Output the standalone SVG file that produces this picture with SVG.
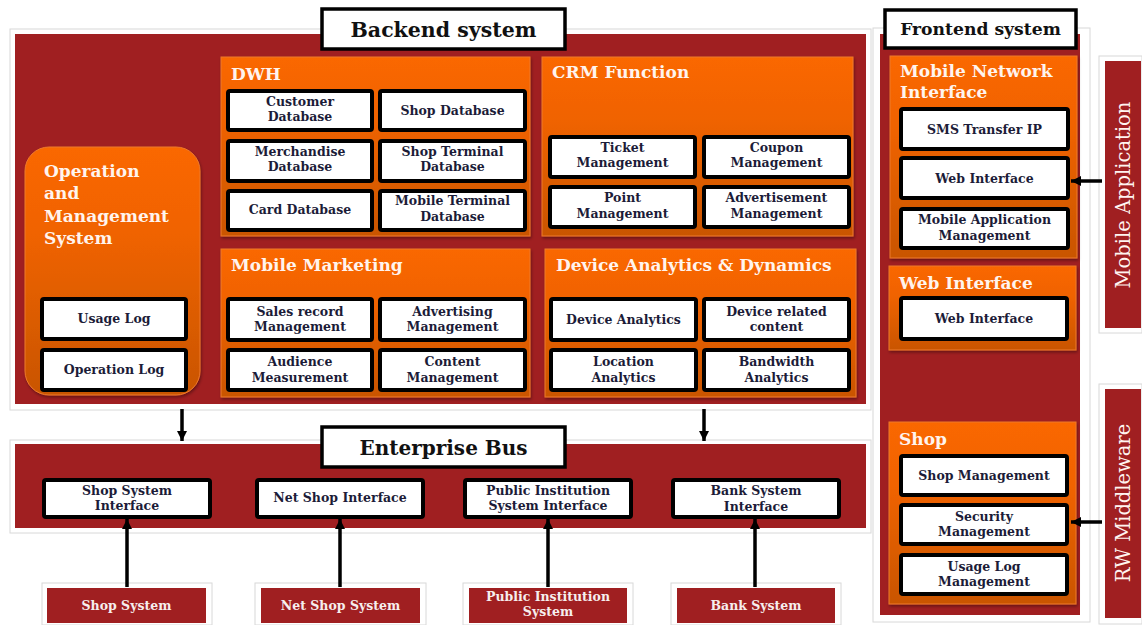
<svg xmlns="http://www.w3.org/2000/svg" width="1142" height="625" viewBox="0 0 1142 625">
<style>
.bg{fill:#fff}
.frame{fill:#fff;stroke:#d8d8d8;stroke-width:1}
.red{fill:#A01F21}
.org{fill:url(#og);stroke:#EE7A2A;stroke-width:1}
.box{fill:#fff;stroke:#000;stroke-width:4}
.tbox{fill:#fff;stroke:#000;stroke-width:3.5}
.bt{font-family:"DejaVu Serif",serif;font-weight:bold;font-size:12.5px;fill:#1c1c38;text-anchor:middle}
.ot{font-family:"DejaVu Serif",serif;font-weight:bold;font-size:17px;fill:#fff4ee}
.tt{font-family:"DejaVu Serif",serif;font-weight:bold;fill:#111;text-anchor:middle}
.rt{font-family:"DejaVu Serif",serif;font-weight:bold;font-size:12.5px;fill:#f6eeee;text-anchor:middle}
.vt{font-family:"DejaVu Serif",serif;font-size:19.5px;fill:#fff4f0;text-anchor:middle}
.con line{stroke:#000;stroke-width:3.5}
</style>
<defs>
<linearGradient id="og" x1="0" y1="0" x2="0" y2="1">
<stop offset="0" stop-color="#FA6700"/>
<stop offset="0.35" stop-color="#F06300"/>
<stop offset="1" stop-color="#C95500"/>
</linearGradient>
<filter id="sh" x="-5%" y="-5%" width="110%" height="110%">
<feDropShadow dx="1" dy="2" stdDeviation="1.5" flood-color="#000" flood-opacity="0.35"/>
</filter>
<marker id="ah" viewBox="0 0 10 10" refX="10" refY="5" markerWidth="10" markerHeight="10" markerUnits="userSpaceOnUse" orient="auto">
<path d="M0,0 L10,5 L0,10 z" fill="#000"/>
</marker>
</defs>
<rect class="bg" x="0" y="0" width="1142" height="625"/>

<g id="backend">
<rect class="frame" x="10" y="29" width="861" height="381"/>
<rect class="red" x="15" y="34" width="851" height="370"/>
<rect class="tbox" x="322" y="9" width="243" height="40"/>
<text class="tt" x="443.5" y="37" font-size="20.5">Backend system</text>
</g>

<g id="operation">
<rect class="org" x="25" y="147" width="175" height="248" rx="24" filter="url(#sh)"/>
<text class="ot" x="44" y="177" font-size="17.6">Operation</text>
<text class="ot" x="44" y="199" font-size="17.6">and</text>
<text class="ot" x="44" y="222" font-size="17.6">Management</text>
<text class="ot" x="44" y="244" font-size="17.6">System</text>
<g id="usage-log"><rect class="box" x="42" y="299" width="144" height="40" rx="2"/><text class="bt" x="114" y="323">Usage Log</text></g>
<g id="operation-log"><rect class="box" x="42" y="350" width="144" height="40" rx="2"/><text class="bt" x="114" y="374">Operation Log</text></g>
</g>

<g id="dwh">
<rect class="org" x="221" y="57" width="309" height="179" filter="url(#sh)"/>
<text class="ot" x="231" y="80">DWH</text>
<g id="customer-db"><rect class="box" x="228" y="91" width="144" height="39" rx="2"/><text class="bt" x="300" y="106">Customer</text><text class="bt" x="300" y="121">Database</text></g>
<g id="shop-db"><rect class="box" x="380" y="91" width="145" height="39" rx="2"/><text class="bt" x="452.5" y="115">Shop Database</text></g>
<g id="merch-db"><rect class="box" x="228" y="141" width="144" height="40" rx="2"/><text class="bt" x="300" y="156">Merchandise</text><text class="bt" x="300" y="171">Database</text></g>
<g id="shopterm-db"><rect class="box" x="380" y="141" width="145" height="40" rx="2"/><text class="bt" x="452.5" y="156">Shop Terminal</text><text class="bt" x="452.5" y="171">Database</text></g>
<g id="card-db"><rect class="box" x="228" y="191" width="144" height="39" rx="2"/><text class="bt" x="300" y="214">Card Database</text></g>
<g id="mobterm-db"><rect class="box" x="380" y="191" width="145" height="39" rx="2"/><text class="bt" x="452.5" y="205">Mobile Terminal</text><text class="bt" x="452.5" y="221">Database</text></g>
</g>

<g id="crm">
<rect class="org" x="542" y="57" width="311" height="179" filter="url(#sh)"/>
<text class="ot" x="552" y="78">CRM Function</text>
<g id="ticket"><rect class="box" x="550" y="137" width="145" height="40" rx="2"/><text class="bt" x="622.5" y="152">Ticket</text><text class="bt" x="622.5" y="167">Management</text></g>
<g id="coupon"><rect class="box" x="704" y="137" width="145" height="40" rx="2"/><text class="bt" x="776.5" y="152">Coupon</text><text class="bt" x="776.5" y="167">Management</text></g>
<g id="point"><rect class="box" x="550" y="187" width="145" height="40" rx="2"/><text class="bt" x="622.5" y="202">Point</text><text class="bt" x="622.5" y="218">Management</text></g>
<g id="advert"><rect class="box" x="704" y="187" width="145" height="40" rx="2"/><text class="bt" x="776.5" y="202">Advertisement</text><text class="bt" x="776.5" y="218">Management</text></g>
</g>

<g id="mobile-marketing">
<rect class="org" x="221" y="249" width="309" height="148" filter="url(#sh)"/>
<text class="ot" x="231" y="271">Mobile Marketing</text>
<g id="sales"><rect class="box" x="228" y="299" width="144" height="41" rx="2"/><text class="bt" x="300" y="316">Sales record</text><text class="bt" x="300" y="331">Management</text></g>
<g id="advertising"><rect class="box" x="380" y="299" width="145" height="41" rx="2"/><text class="bt" x="452.5" y="316">Advertising</text><text class="bt" x="452.5" y="331">Management</text></g>
<g id="audience"><rect class="box" x="228" y="350" width="144" height="40" rx="2"/><text class="bt" x="300" y="366">Audience</text><text class="bt" x="300" y="382">Measurement</text></g>
<g id="content"><rect class="box" x="380" y="350" width="145" height="40" rx="2"/><text class="bt" x="452.5" y="366">Content</text><text class="bt" x="452.5" y="382">Management</text></g>
</g>

<g id="device">
<rect class="org" x="545" y="249" width="311" height="148" filter="url(#sh)"/>
<text class="ot" x="556" y="271">Device Analytics &amp; Dynamics</text>
<g id="dev-analytics"><rect class="box" x="551" y="299" width="145" height="41" rx="2"/><text class="bt" x="623.5" y="324">Device Analytics</text></g>
<g id="dev-content"><rect class="box" x="704" y="299" width="145" height="41" rx="2"/><text class="bt" x="776.5" y="316">Device related</text><text class="bt" x="776.5" y="331">content</text></g>
<g id="location"><rect class="box" x="551" y="350" width="145" height="40" rx="2"/><text class="bt" x="623.5" y="366">Location</text><text class="bt" x="623.5" y="382">Analytics</text></g>
<g id="bandwidth"><rect class="box" x="704" y="350" width="145" height="40" rx="2"/><text class="bt" x="776.5" y="366">Bandwidth</text><text class="bt" x="776.5" y="382">Analytics</text></g>
</g>

<g id="enterprise-bus">
<rect class="frame" x="10" y="440" width="861" height="93"/>
<rect class="red" x="15" y="444" width="851" height="84"/>
<rect class="tbox" x="322" y="427" width="243" height="40"/>
<text class="tt" x="443.5" y="455" font-size="20">Enterprise Bus</text>
<g id="shop-if"><rect class="box" x="44" y="480" width="166" height="37" rx="2"/><text class="bt" x="127" y="495">Shop System</text><text class="bt" x="127" y="510">Interface</text></g>
<g id="netshop-if"><rect class="box" x="257" y="480" width="166" height="37" rx="2"/><text class="bt" x="340" y="502">Net Shop Interface</text></g>
<g id="public-if"><rect class="box" x="465" y="480" width="166" height="37" rx="2"/><text class="bt" x="548" y="495">Public Institution</text><text class="bt" x="548" y="510">System Interface</text></g>
<g id="bank-if"><rect class="box" x="673" y="480" width="166" height="37" rx="2"/><text class="bt" x="756" y="495">Bank System</text><text class="bt" x="756" y="511">Interface</text></g>
</g>

<g id="shop-system"><rect class="frame" x="42" y="583" width="170" height="42"/><rect class="red" x="47" y="588" width="159" height="35"/><text class="rt" x="126.5" y="610">Shop System</text></g>
<g id="netshop-system"><rect class="frame" x="255" y="583" width="171" height="42"/><rect class="red" x="261" y="588" width="159" height="35"/><text class="rt" x="340.5" y="610">Net Shop System</text></g>
<g id="public-system"><rect class="frame" x="463" y="583" width="170" height="42"/><rect class="red" x="469" y="588" width="158" height="35"/><text class="rt" x="548" y="601">Public Institution</text><text class="rt" x="548" y="616">System</text></g>
<g id="bank-system"><rect class="frame" x="671" y="583" width="170" height="42"/><rect class="red" x="677" y="588" width="158" height="35"/><text class="rt" x="756" y="610">Bank System</text></g>

<g id="frontend">
<rect class="frame" x="873" y="28" width="217" height="594"/>
<rect class="red" x="880" y="34" width="200" height="581"/>
<rect class="tbox" x="885" y="10" width="191" height="38"/>
<text class="tt" x="980.5" y="35" font-size="17.2">Frontend system</text>
</g>

<g id="mobile-network">
<rect class="org" x="890" y="56" width="187" height="202" filter="url(#sh)"/>
<text class="ot" x="900" y="77" font-size="14.8">Mobile Network</text>
<text class="ot" x="900" y="98" font-size="14.8">Interface</text>
<g id="sms"><rect class="box" x="901" y="109" width="167" height="40" rx="2"/><text class="bt" x="984.5" y="134">SMS Transfer IP</text></g>
<g id="web-if-1"><rect class="box" x="901" y="158" width="167" height="40" rx="2"/><text class="bt" x="984.5" y="183">Web Interface</text></g>
<g id="mob-app-mgmt"><rect class="box" x="901" y="209" width="167" height="39" rx="2"/><text class="bt" x="984.5" y="224">Mobile Application</text><text class="bt" x="984.5" y="240">Management</text></g>
</g>

<g id="web-interface">
<rect class="org" x="889" y="266" width="187" height="84" filter="url(#sh)"/>
<text class="ot" x="899" y="289">Web Interface</text>
<g id="web-if-2"><rect class="box" x="901" y="298" width="166" height="41" rx="2"/><text class="bt" x="984" y="323">Web Interface</text></g>
</g>

<g id="shop">
<rect class="org" x="889" y="422" width="187" height="182" filter="url(#sh)"/>
<text class="ot" x="899" y="445">Shop</text>
<g id="shop-mgmt"><rect class="box" x="901" y="456" width="166" height="39" rx="2"/><text class="bt" x="984" y="480">Shop Management</text></g>
<g id="security"><rect class="box" x="901" y="505" width="166" height="39" rx="2"/><text class="bt" x="984" y="521">Security</text><text class="bt" x="984" y="536">Management</text></g>
<g id="usage-log-mgmt"><rect class="box" x="901" y="555" width="166" height="39" rx="2"/><text class="bt" x="984" y="571">Usage Log</text><text class="bt" x="984" y="586">Management</text></g>
</g>

<g id="mobile-application">
<rect class="frame" x="1099" y="56" width="43" height="277"/>
<rect class="red" x="1105" y="61" width="36" height="267"/>
<text class="vt" transform="translate(1130,195) rotate(-90)">Mobile Application</text>
</g>

<g id="rw-middleware">
<rect class="frame" x="1099" y="384" width="43" height="240"/>
<rect class="red" x="1105" y="389" width="36" height="229"/>
<text class="vt" transform="translate(1130,503) rotate(-90)">RW Middleware</text>
</g>

<g class="con" id="connectors">
<line x1="182" y1="409" x2="182" y2="441" marker-end="url(#ah)"/>
<line x1="704" y1="409" x2="704" y2="441" marker-end="url(#ah)"/>
<line x1="127" y1="587" x2="127" y2="519" marker-end="url(#ah)"/>
<line x1="340" y1="587" x2="340" y2="519" marker-end="url(#ah)"/>
<line x1="548" y1="587" x2="548" y2="519" marker-end="url(#ah)"/>
<line x1="755" y1="587" x2="755" y2="519" marker-end="url(#ah)"/>
<line x1="1102" y1="181" x2="1071" y2="181" marker-end="url(#ah)"/>
<line x1="1102" y1="522" x2="1071" y2="522" marker-end="url(#ah)"/>
</g>
</svg>
